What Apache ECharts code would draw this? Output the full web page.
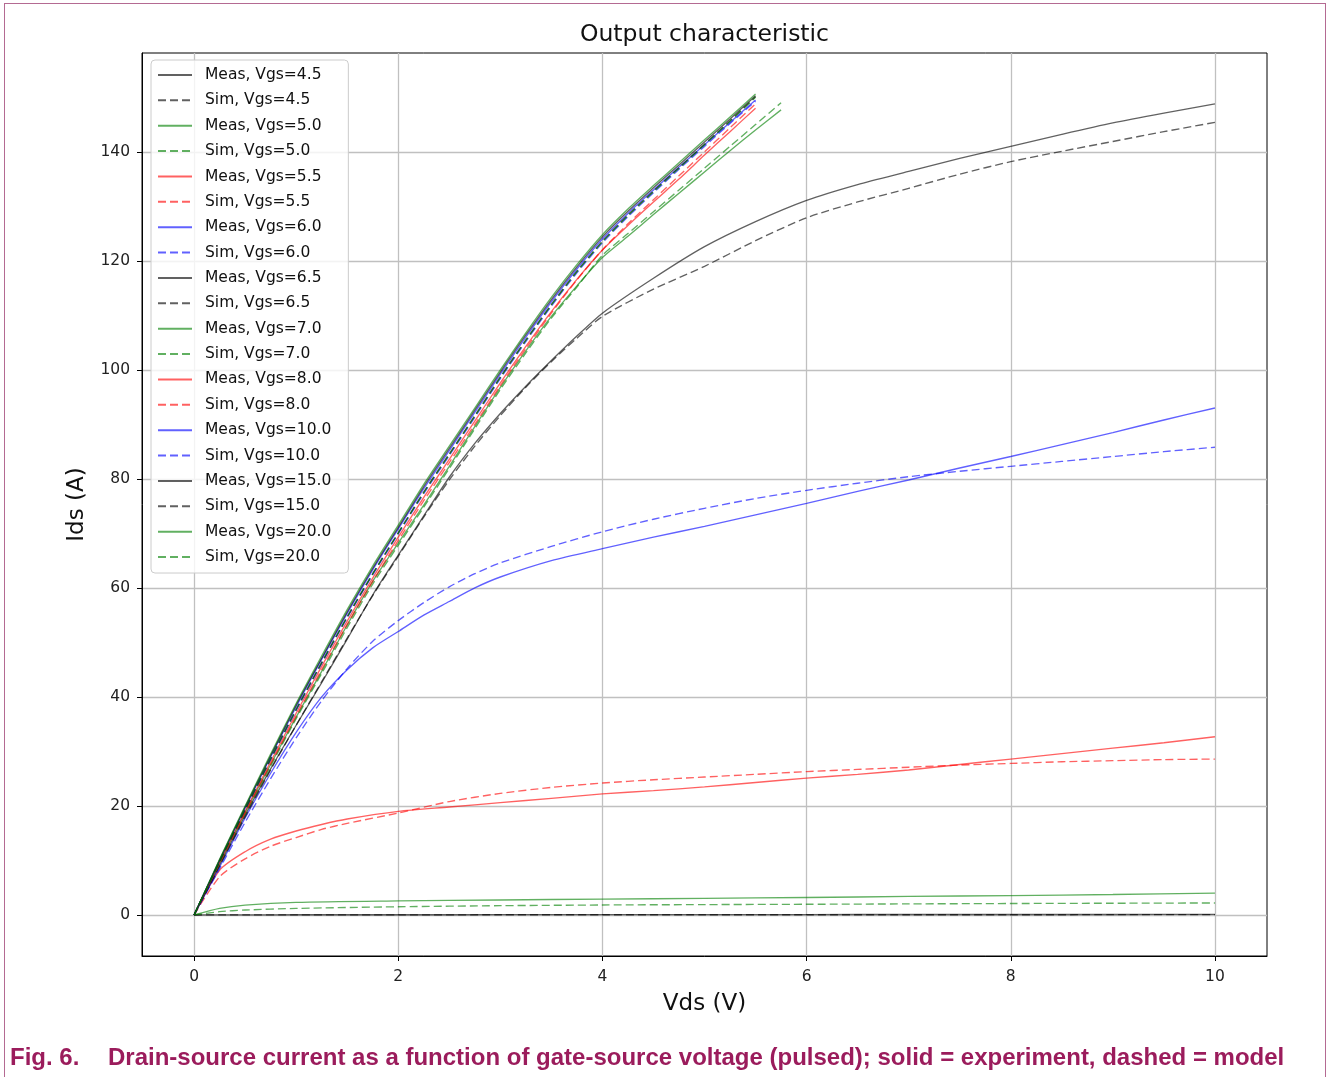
<!DOCTYPE html>
<html>
<head>
<meta charset="utf-8">
<script src="https://cdn.jsdelivr.net/npm/echarts@6/dist/echarts.min.js"></script>
<style>
html,body{margin:0;padding:0;background:#ffffff;width:1327px;height:1077px;overflow:hidden;}
#chart{position:absolute;left:0;top:0;width:1327px;height:1077px;}
#frame{position:absolute;left:4px;top:3px;width:1322px;height:1120px;border:1.5px solid #b46a92;box-sizing:border-box;pointer-events:none;}
.cap{position:absolute;top:1044px;font-family:"Liberation Sans",Arial,sans-serif;font-weight:bold;font-size:24px;color:#9b1c5c;white-space:nowrap;line-height:26px;}
</style>
</head>
<body>
<div id="chart"></div>
<div id="frame"></div>
<div class="cap" style="left:10px;">Fig. 6.</div>
<div class="cap" id="capText" style="left:108px;">Drain-source current as a function of gate-source voltage (pulsed); solid = experiment, dashed = model</div>
<script>
// ---- Vds sample points (V) ----
const vdsLow   = [0,0.25,0.5,1,2,3,4,5,6,7,8,9,10];
const vdsKnee  = [0,0.25,0.5,0.75,1,1.25,1.5,2,2.5,3,3.5,4,4.5,5,5.5,6,6.5,7,7.5,8,8.5,9,9.5,10];
const vdsMid   = [0,0.25,0.5,0.75,1,1.25,1.5,1.75,2,2.25,2.5,2.75,3,3.5,4,4.5,5,5.5,6,6.5,7,7.5,8,8.5,9,9.5,10];
const vdsWide  = [0,0.25,0.5,0.75,1,1.25,1.5,1.75,2,2.25,2.5,2.75,3,3.25,3.5,3.75,4,4.5,5,5.5,6,6.5,7,7.5,8,8.5,9,9.5,10];
const vdsFine  = [0,0.25,0.5,0.75,1,1.25,1.5,1.75,2,2.25,2.5,2.75,3,3.25,3.5,3.75,4,4.25,4.5,4.75,5,5.25,5.5];
const vdsFine7 = [0,0.25,0.5,0.75,1,1.25,1.5,1.75,2,2.25,2.5,2.75,3,3.25,3.5,3.75,4,4.25,4.5,4.75,5,5.25,5.5,5.75];

// ---- Ids values (A) ----
const meas45 = [0,0.01,0.02,0.03,0.04,0.05,0.06,0.06,0.07,0.08,0.08,0.09,0.1];
const sim45  = [0,0.01,0.01,0.02,0.02,0.03,0.03,0.03,0.04,0.04,0.04,0.05,0.05];
const meas50 = [0,1.2,1.8,2.3,2.57,2.75,2.9,3.05,3.2,3.4,3.55,3.75,4.0];
const sim50  = [0,0.6,0.9,1.2,1.5,1.7,1.83,1.9,1.96,2.03,2.1,2.15,2.2];
const meas55 = [0,8.2,11.6,13.9,15.4,16.6,17.6,19,19.8,20.6,21.4,22.2,22.8,23.5,24.3,25.1,25.8,26.6,27.6,28.6,29.6,30.6,31.6,32.7];
const sim55  = [0,7,10.3,12.6,14.2,15.7,16.8,18.7,20.8,22.3,23.4,24.2,24.8,25.3,25.8,26.3,26.7,27.1,27.5,27.8,28.1,28.3,28.5,28.6];
const meas60 = [0,8.8,17.8,26,33.5,40,45,49,52,55,57.5,60,62,65,67.2,69.3,71.3,73.4,75.5,77.7,79.8,82,84.1,86.3,88.5,90.8,93];
const sim60  = [0,8.5,17,25,32.5,39.3,45.2,50.2,54,57.3,60.2,62.6,64.6,67.6,70.3,72.6,74.6,76.4,77.9,79.2,80.4,81.4,82.3,83.2,84.1,85,85.8];
const meas65 = [0,9.2,18.3,26.8,34.8,42.6,50.6,58.7,66,73.2,80.3,86.5,92,97,101.7,106.2,110.4,116.8,122.6,127.2,131.1,134,136.4,138.8,141,143.2,145.3,147.1,148.8];
const sim65  = [0,9,18,26.6,34.8,42.8,50.8,58.6,65.8,73,79.8,86,91.6,96.8,101.5,105.8,109.8,114.8,119,123.7,127.9,130.8,133.3,135.9,138.2,140.1,141.9,143.7,145.4];
const meas70 = [0,9.6,18.8,27.6,36.3,44.7,53.2,61.2,68.2,75.2,82.3,89.6,96.8,103.5,109.8,115.4,120.6,124.5,128.5,132.4,136.3,140.2,144,147.7];
const sim70  = [0,9.4,18.5,27.3,36,44.3,52.7,60.7,67.8,74.8,81.9,89.2,96.4,103.1,109.5,115.2,121,125,129,133,137,141,145,149];
const meas80 = [0,9.7,19,28.1,37,45.6,53.9,61.8,69.3,76.6,83.6,90.6,97.6,104.3,110.7,116.6,122,126.5,130.8,135,139.4,143.7,148];
const sim80  = [0,9.5,18.7,27.7,36.5,45,53.3,61.2,68.7,76,83,90,97.1,103.9,110.4,116.5,122,126.8,131.2,135.6,140,144.4,148.8];
const meas100 = [0,10,19.6,29,38.2,46.9,55.3,63.3,70.8,78.2,85.2,92.2,99.2,106,112.5,118.5,124,128.7,133,137.2,141.3,145.4,149.5];
const sim100  = [0,9.8,19.3,28.5,37.5,46.1,54.5,62.4,69.9,77.3,84.3,91.3,98.4,105.2,111.7,117.8,123.3,128.1,132.5,136.8,141,145.2,149.3];
const meas150 = [0,10.1,19.8,29.2,38.5,47.1,55.6,63.6,71.1,78.6,85.6,92.6,99.6,106.4,112.9,118.9,124.4,129.1,133.4,137.6,141.8,146,150.3];
const sim150  = [0,9.8,19.3,28.6,37.7,46.3,54.7,62.6,70.1,77.6,84.6,91.6,98.7,105.5,112,118.1,123.6,128.4,132.8,137.1,141.4,145.7,150.1];
const meas200 = [0,10.2,20,29.5,38.8,47.5,56,64,71.5,79,86,93,100,106.8,113.3,119.3,124.8,129.5,133.8,138,142.2,146.4,150.6];
const sim200  = [0,9.8,19.4,28.7,37.7,46.3,54.7,62.6,70.1,77.5,84.5,91.5,98.6,105.4,111.9,118,123.5,128.3,132.7,137,141.3,145.6,150];

// ---- tick labels ----
const xTicks = [0,2,4,6,8,10];
const yTicks = [0,20,40,60,80,100,120,140];

// ---- series definitions: [name, x array, y array, colour, dash] ----
const seriesDefs = [
  ['Meas, Vgs=4.5', vdsLow, meas45, '#000000', false],
  ['Sim, Vgs=4.5',  vdsLow, sim45,  '#000000', true],
  ['Meas, Vgs=5.0', vdsLow, meas50, '#008000', false],
  ['Sim, Vgs=5.0',  vdsLow, sim50,  '#008000', true],
  ['Meas, Vgs=5.5', vdsKnee, meas55, '#ff0000', false],
  ['Sim, Vgs=5.5',  vdsKnee, sim55,  '#ff0000', true],
  ['Meas, Vgs=6.0', vdsMid, meas60, '#0000ff', false],
  ['Sim, Vgs=6.0',  vdsMid, sim60,  '#0000ff', true],
  ['Meas, Vgs=6.5', vdsWide, meas65, '#000000', false],
  ['Sim, Vgs=6.5',  vdsWide, sim65,  '#000000', true],
  ['Meas, Vgs=7.0', vdsFine7, meas70, '#008000', false],
  ['Sim, Vgs=7.0',  vdsFine7, sim70,  '#008000', true],
  ['Meas, Vgs=8.0', vdsFine, meas80, '#ff0000', false],
  ['Sim, Vgs=8.0',  vdsFine, sim80,  '#ff0000', true],
  ['Meas, Vgs=10.0', vdsFine, meas100, '#0000ff', false],
  ['Sim, Vgs=10.0',  vdsFine, sim100,  '#0000ff', true],
  ['Meas, Vgs=15.0', vdsFine, meas150, '#000000', false],
  ['Sim, Vgs=15.0',  vdsFine, sim150,  '#000000', true],
  ['Meas, Vgs=20.0', vdsFine, meas200, '#008000', false],
  ['Sim, Vgs=20.0',  vdsFine, sim200,  '#008000', true]
];

const FONT = 'DejaVu Sans';
const series = seriesDefs.map(function (d) {
  return {
    name: d[0],
    type: 'line',
    data: d[1].map(function (x, i) { return [x, d[2][i]]; }),
    showSymbol: false,
    symbol: 'none',
    smooth: 0.25,
    color: d[3],
    lineStyle: { color: d[3], width: 1.35, opacity: 0.62, type: d[4] ? [8, 4] : 'solid' },
    emphasis: { disabled: true },
    silent: true,
    animation: false
  };
});

const chart = echarts.init(document.getElementById('chart'), null, { renderer: 'canvas' });
chart.setOption({
  backgroundColor: 'transparent',
  animation: false,
  title: {
    text: 'Output characteristic',
    left: 704.5,
    top: 23,
    padding: 0,
    textAlign: 'center',
    textStyle: { fontFamily: FONT, fontSize: 23.5, fontWeight: 'normal', color: '#111' }
  },
  grid: {
    left: 142, right: 60, top: 53, bottom: 121,
    show: true, borderColor: '#000', borderWidth: 1, backgroundColor: 'transparent'
  },
  legend: {
    orient: 'vertical',
    left: 151, top: 60,
    padding: [7, 17, 8, 6],
    itemWidth: 34, itemHeight: 14, itemGap: 9.37,
    backgroundColor: 'rgba(255,255,255,0.8)',
    borderColor: '#cccccc', borderWidth: 1, borderRadius: 4,
    selectedMode: false,
    itemStyle: { opacity: 0 },
    textStyle: { fontFamily: FONT, fontSize: 15.5, color: '#111', lineHeight: 14, padding: [0, 0, 0, 8] },
    data: seriesDefs.map(function (d) { return d[0]; })
  },
  xAxis: {
    type: 'value', min: -0.51, max: 10.51,
    name: 'Vds (V)', nameLocation: 'middle', nameGap: 37,
    nameTextStyle: { fontFamily: FONT, fontSize: 23, color: '#111' },
    axisLine: { show: true, onZero: false, lineStyle: { color: '#000', width: 1 } },
    axisTick: { show: true, length: 5, customValues: xTicks, lineStyle: { color: '#000', width: 1 } },
    axisLabel: { customValues: xTicks, fontFamily: FONT, fontSize: 15.5, color: '#222', margin: 13 },
    splitLine: { show: true, lineStyle: { color: '#c0c0c0', width: 1.3 } }
  },
  yAxis: {
    type: 'value', min: -7.53, max: 158.13,
    name: 'Ids (A)', nameLocation: 'middle', nameGap: 53,
    nameTextStyle: { fontFamily: FONT, fontSize: 23, color: '#111' },
    axisLine: { show: true, onZero: false, lineStyle: { color: '#000', width: 1 } },
    axisTick: { show: true, length: 5, customValues: yTicks, lineStyle: { color: '#000', width: 1 } },
    axisLabel: { customValues: yTicks, fontFamily: FONT, fontSize: 15.5, color: '#222', margin: 12 },
    splitLine: { show: true, lineStyle: { color: '#c0c0c0', width: 1.3 } }
  },
  series: series
});
</script>
</body>
</html>
